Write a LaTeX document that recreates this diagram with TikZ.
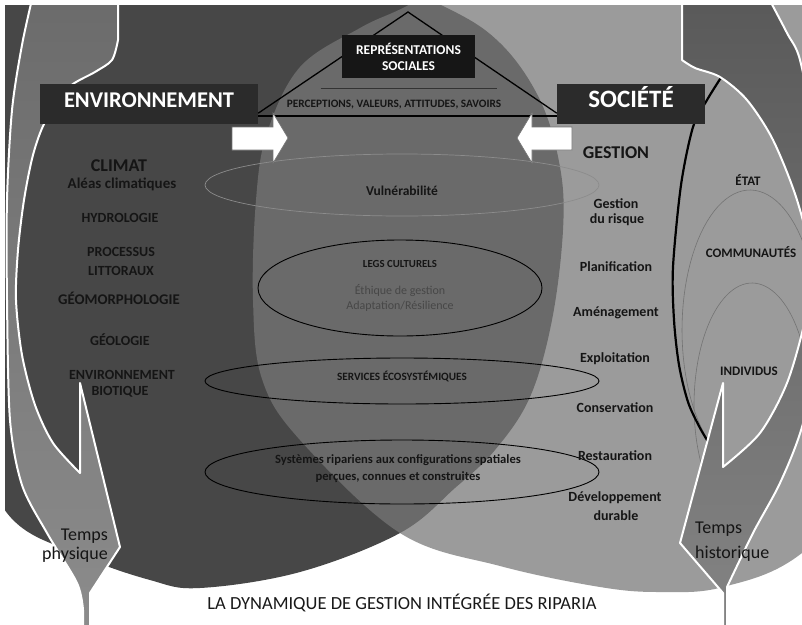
\documentclass[tikz,border=0pt]{standalone}
\usepackage{fontspec}
\setmainfont{Carlito}
\usetikzlibrary{shapes.geometric, positioning}
\definecolor{envfill}{HTML}{474747}
\definecolor{socfill}{HTML}{777777}
\definecolor{boxfill}{HTML}{2B2B2B}
\definecolor{inkdark}{HTML}{151515}
\tikzstyle{ring} = [ellipse, draw=black, line width=0.9pt, inner sep=0pt]

\begin{document}
\begin{tikzpicture}
	[x=1pt, y=-1pt,
	headbox/.style={fill=boxfill, text=white, inner sep=0pt, minimum height=40pt,
		font=\bfseries\fontsize{22.5}{26}\selectfont, text height=0.65em, text depth=0pt},
	repbox/.style={fill=boxfill!110, text=white, inner sep=0pt, align=center,
		font=\bfseries\fontsize{13.5}{16}\selectfont},
	biglabel/.style={anchor=base, inner sep=0pt, text=inkdark, font=\bfseries\fontsize{18}{20}\selectfont},
	item/.style={anchor=base, inner sep=0pt, text=inkdark, font=\bfseries\fontsize{14}{16}\selectfont},
	sublabel/.style={anchor=base, inner sep=0pt, text=inkdark, font=\bfseries\fontsize{13}{15}\selectfont},
	small/.style={anchor=base, inner sep=0pt, text=inkdark, font=\bfseries\fontsize{10.8}{12}\selectfont},
	plain/.style={anchor=base, inner sep=0pt, text=black!72, font=\fontsize{12}{14}\selectfont},
	timelabel/.style={inner sep=0pt, text=inkdark, font=\fontsize{18}{20}\selectfont},
	bigarrow/.style={draw=white, line width=2pt, line join=round},
	fatarrow/.style={fill=white, draw=black!55, line width=0.6pt}]

	\fill[white] (0,0) rectangle (802,624);
	\useasboundingbox (0,0) rectangle (802,624);

	\begin{scope}
	\clip (5,5) rectangle (802,624);
	% the two large discs
	\fill[envfill] plot[smooth cycle, tension=0.6] coordinates {(443,6) (500,43) (540,100) (560,167)
		(563,230) (552,320) (530,397) (495,450) (455,488) (400,533) (300,572) (200,588) (150,580)
		(80,555) (7,513) (-40,400) (-60,200) (-30,40) (100,-60) (330,-40)};
	\fill[socfill, fill opacity=0.73] plot[smooth cycle, tension=0.6] coordinates {(403,8) (360,28)
		(300,67) (267,133) (256,200) (253,300) (262,379) (300,440) (400,533) (500,566) (600,587)
		(660,592) (723,587) (802,553) (900,450) (960,250) (900,50) (700,-60) (480,-30)};

	% nested rings on the right
	\draw[black!55, line width=0.6pt] plot[domain=20:235, samples=60, variable=\t]
		({750+68*cos(\t)}, {330-140*sin(\t)});
	\draw[black!55, line width=0.6pt] plot[domain=20:215, samples=60, variable=\t]
		({752+58*cos(\t)}, {405-122*sin(\t)});
	\draw[black, line width=2.2pt] plot[smooth] coordinates {(722,76) (707,100) (693,127) (681,185)
		(673,267) (674,320) (679,365) (688,402) (700,428) (712,448)};

	% time arrows
	\shadedraw[bigarrow, top color=black!65, bottom color=black!48]
		(682,-5) -- (682,60) -- plot[smooth] coordinates {(682,60) (695,68) (720,77) (747,100)
		(773,140) (797,200) (812,265) (805,320) (787,383) (760,433) (723,467)}
		-- (723,383) -- (680,543) -- (723,593) -- (723,640) -- (727,640) -- (727,587)
		-- plot[smooth] coordinates {(727,587) (753,533) (780,483) (802,427) (822,340) (825,250)
		(815,140) (800,60) (787,33) (767,-5)} -- cycle;
	\shadedraw[bigarrow, top color=black!58, bottom color=black!45]
		(33,-5) -- plot[smooth] coordinates {(33,-5) (22,45) (12,110) (7,200) (7,300) (10,420)
		(22,485) (47,533) (77,583) (83,610)} -- (83,640) -- (90,640) -- (90,593) -- (120,547)
		-- (80,383) -- (80,473) -- plot[smooth] coordinates {(80,473) (53,443) (35,405) (22,355)
		(16,300) (18,250) (24,200) (33,155) (45,122) (68,88) (95,72) (112,60) (118,40)}
		-- (118,-5) -- cycle;
	\end{scope}

	% rings in the middle
	\node[ring, draw=black!45, line width=0.7pt, minimum width=394pt, minimum height=62pt] (vulnring) at (402,185) {};
	\node[ring, minimum width=284pt, minimum height=96pt] (legsring) at (400,288) {};
	\node[ring, minimum width=394pt, minimum height=46pt] (servring) at (402,381) {};
	\node[ring, minimum width=394pt, minimum height=64pt] (sysring) at (402,472) {};

	% social representations
	\node[headbox, minimum width=218pt] (envbox) at (149,104) {ENVIRONNEMENT};
	\node[headbox, minimum width=148pt, font=\bfseries\fontsize{25}{28}\selectfont] (socbox) at (631,104) {SOCIÉTÉ};
	\coordinate (apex) at (408,12);
	\draw[line width=1.3pt] ([yshift=11pt]envbox.south east) -- (apex) -- ([yshift=11pt]socbox.south west);
	\draw[line width=1.6pt] ([yshift=8pt]envbox.south east) -- ([yshift=8pt]socbox.south west);
	\node[repbox, minimum width=133pt, minimum height=43pt] (repbox) at (408.5,56.5) {REPRÉSENTATIONS\\SOCIALES};
	\draw[black!80, line width=1.2pt] ([xshift=-88pt,yshift=-10pt]repbox.south) -- ([xshift=88pt,yshift=-10pt]repbox.south);
	\node[small, font=\bfseries\fontsize{11.3}{13}\selectfont] (percep) at (394,107) {PERCEPTIONS, VALEURS, ATTITUDES, SAVOIRS};

	\draw[fatarrow] (232,127) -- (273,127) -- (273,113) -- (288,138) -- (273,163) -- (273,150) -- (232,150) -- cycle;
	\draw[fatarrow] (572,127) -- (532,127) -- (532,113) -- (517,138) -- (532,163) -- (532,150) -- (572,150) -- cycle;

	% environment side
	\node[biglabel] (climat) at (119,171) {CLIMAT};
	\node[item, font=\bfseries\fontsize{15}{17}\selectfont] (aleas) at (122,188) {Aléas climatiques};
	\node[item] (hydro) at (120,222) {HYDROLOGIE};
	\node[item] (processus) at (121,256) {PROCESSUS};
	\node[item] (littoraux) at (121,275) {LITTORAUX};
	\node[item, font=\bfseries\fontsize{14.8}{17}\selectfont] (geomorpho) at (119,304) {GÉOMORPHOLOGIE};
	\node[item] (geologie) at (120,345) {GÉOLOGIE};
	\node[item] (envbio) at (122,379) {ENVIRONNEMENT};
	\node[item] (biotique) at (120,395) {BIOTIQUE};

	% society side
	\node[biglabel] (gestion) at (616,158) {GESTION};
	\node[item] (risque) at (616,208) {Gestion};
	\node[item] (risque2) at (617,223) {du risque};
	\node[item] (planif) at (616,271) {Planification};
	\node[item] (amenag) at (616,316) {Aménagement};
	\node[item] (exploit) at (615,362) {Exploitation};
	\node[item] (conserv) at (615,412) {Conservation};
	\node[item] (restaur) at (615,460) {Restauration};
	\node[item] (devel) at (615,501) {Développement};
	\node[item] (durable) at (616,520) {durable};
	\node[sublabel] (etat) at (748,185) {ÉTAT};
	\node[sublabel] (communaute) at (751,257) {COMMUNAUTÉS};
	\node[sublabel] (individus) at (749,375) {INDIVIDUS};

	% middle
	\node[small, font=\bfseries\fontsize{13.5}{15}\selectfont] (vulner) at (402,195) {Vulnérabilité};
	\node[small] (legs) at (400,267) {LEGS CULTURELS};
	\node[plain] (ethique) at (400,294) {Éthique de gestion};
	\node[plain] (adapt) at (400,309) {Adaptation/Résilience};
	\node[small, font=\bfseries\fontsize{11.2}{13}\selectfont] (services) at (402,380) {SERVICES ÉCOSYSTÉMIQUES};
	\node[small, font=\bfseries\fontsize{12.6}{14}\selectfont] (systemes) at (398,463) {Systèmes ripariens aux configurations spatiales};
	\node[small, font=\bfseries\fontsize{12.6}{14}\selectfont] (percues) at (398,480) {perçues, connues et construites};

	% time
	\node[timelabel, anchor=base east] (tphys) at (108,540) {Temps};
	\node[timelabel, anchor=base east] (tphys2) at (108,559) {physique};
	\node[timelabel, anchor=base west] (thist) at (695,533) {Temps};
	\node[timelabel, anchor=base west] (thist2) at (695,558) {historique};

	\node[anchor=base, inner sep=0pt, text=black!90, font=\fontsize{18.5}{20}\selectfont] (titre) at (402,609)
		{LA DYNAMIQUE DE GESTION INTÉGRÉE DES RIPARIA};
\end{tikzpicture}
\end{document}
